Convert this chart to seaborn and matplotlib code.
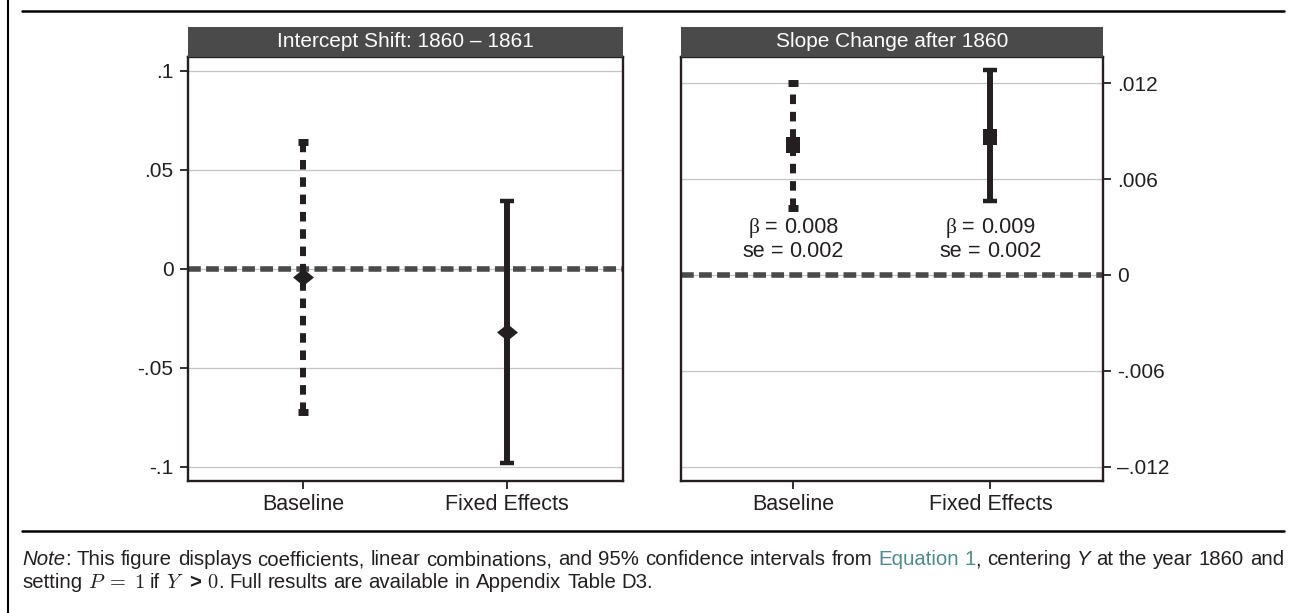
import numpy as np
import pandas as pd
import matplotlib
matplotlib.use("Agg")
import matplotlib.pyplot as plt
import seaborn as sns
from matplotlib.lines import Line2D
from matplotlib.patches import Rectangle

# ---------------- data ----------------
categories = ["Baseline", "Fixed Effects"]
intercept_coef = [-0.0040, -0.0319]
intercept_lo = [-0.0723, -0.0984]
intercept_hi = [0.0642, 0.0344]
slope_coef = [0.0081, 0.0086]
slope_lo = [0.0042, 0.0046]
slope_hi = [0.0120, 0.0128]
slope_beta = ["0.008", "0.009"]
slope_se = ["0.002", "0.002"]
panel_titles = ["Intercept Shift: 1860 \u2013 1861", "Slope Change after 1860"]
left_ticks = [-0.1, -0.05, 0, 0.05, 0.1]
left_ticklabels = ["-.1", "-.05", "0", ".05", ".1"]
right_ticks = [-0.012, -0.006, 0, 0.006, 0.012]
right_ticklabels = ["\u2013.012", "-.006", "0", ".006", ".012"]
line_styles = ["dashed", "solid"]

# ---------------- style ----------------
sns.set_theme(style="white")
plt.rcParams["font.family"] = ["Liberation Sans", "DejaVu Sans"]
plt.rcParams["mathtext.fontset"] = "cm"
INK = "#231f20"
HEADER = "#4a4a4a"
GRID = "#c4c4c4"

W, H = 1298, 613
fig = plt.figure(figsize=(W / 100, H / 100), dpi=100)
fig.patch.set_facecolor("white")


def px_rect(x0, y0, x1, y1):
    return [x0 / W, 1 - y1 / H, (x1 - x0) / W, (y1 - y0) / H]


axL = fig.add_axes(px_rect(187.5, 57, 622.7, 481))
axR = fig.add_axes(px_rect(681, 57, 1102.9, 481))


def draw_panel(ax, coef, lo, hi, marker, size, title, ticks, ticklabels, ylim, right=False):
    df = pd.DataFrame({"pos": np.arange(len(categories)), "model": categories,
                       "coef": coef, "lo": lo, "hi": hi})
    ax.set_facecolor("white")
    ax.axhline(0, color=HEADER, lw=4.0, ls=(0, (2.3, 0.95)), zorder=2)
    for i, row in df.iterrows():
        dashed = line_styles[i] == "dashed"
        eb = ax.errorbar([row["pos"]], [row["coef"]],
                         yerr=[[row["coef"] - row["lo"]], [row["hi"] - row["coef"]]],
                         fmt="none", ecolor=INK, elinewidth=4.3,
                         capsize=3.4 if dashed else 5.0,
                         capthick=5.0 if dashed else 3.2, zorder=3)
        if dashed:
            eb.lines[2][0].set_linestyle((0, (1.6, 1.3)))
    sns.scatterplot(data=df, x="pos", y="coef", marker=marker, s=size, color=INK,
                    edgecolor=INK, linewidth=0, zorder=4, ax=ax, legend=False)
    ax.set_xlim(-0.568, 1.57)
    ax.set_ylim(*ylim)
    ax.set_xticks(df["pos"], categories)
    ax.set_yticks(ticks, ticklabels)
    ax.set_xlabel("")
    ax.set_ylabel("")
    ax.yaxis.grid(True, color=GRID, lw=0.9)
    ax.xaxis.grid(False)
    ax.set_axisbelow(True)
    for sp in ax.spines.values():
        sp.set_visible(True)
        sp.set_color(INK)
        sp.set_linewidth(1.7)
    ax.tick_params(axis="both", which="both", length=6, width=1.3, color=INK,
                   labelcolor=INK, labelsize=15, pad=4)
    ax.tick_params(axis="x", bottom=True, top=False, labelsize=15.5, pad=3)
    if right:
        ax.yaxis.tick_right()
        ax.tick_params(axis="y", right=True, left=False)
    else:
        ax.tick_params(axis="y", left=True, right=False)
    hh = 30 / 424
    ax.add_patch(Rectangle((0, 1), 1, hh, transform=ax.transAxes, clip_on=False,
                           facecolor=HEADER, edgecolor="none", zorder=5))
    ax.text(0.5, 1 + hh / 2, title, transform=ax.transAxes, ha="center", va="center",
            color="white", fontsize=15, zorder=6)


diamond = [(-1, 0), (0, 0.81), (1, 0), (0, -0.81), (-1, 0)]
rect = [(-0.44, -0.5), (0.44, -0.5), (0.44, 0.5), (-0.44, 0.5), (-0.44, -0.5)]

draw_panel(axL, intercept_coef, intercept_lo, intercept_hi, diamond, 228,
           panel_titles[0], left_ticks, left_ticklabels, (-0.1073, 0.1069))
draw_panel(axR, slope_coef, slope_lo, slope_hi, rect, 149,
           panel_titles[1], right_ticks, right_ticklabels, (-0.01288, 0.01363), right=True)

# ---------------- text helpers ----------------
fig.canvas.draw()
renderer = fig.canvas.get_renderer()


def measure(txt, props):
    t = fig.text(0, 0, txt, **props)
    w = t.get_window_extent(renderer).width
    t.remove()
    return w


def space_width(props):
    return measure("x x", props) - measure("xx", props)


def to_words(segs):
    words, cur = [], []
    for txt, props in segs:
        parts = txt.split(" ")
        for k, p in enumerate(parts):
            if k > 0 and cur:
                words.append(cur)
                cur = []
            if p:
                cur.append((p, props))
    if cur:
        words.append(cur)
    return words


def draw_words(words, x0, y, gap=None, x1=None, ha="left", zorder=6):
    widths = [sum(measure(t, p) for t, p in w) for w in words]
    if gap is None and x1 is not None:
        gap = (x1 - x0 - sum(widths)) / max(len(words) - 1, 1)
    total = sum(widths) + gap * (len(words) - 1)
    x = x0 - total / 2 if ha == "center" else x0
    for w in words:
        for t, p in w:
            fig.text(x / W, 1 - y / H, t, ha="left", va="baseline", zorder=zorder, **p)
            x += measure(t, p)
        x += gap


# ---------------- beta / se labels ----------------
sans = dict(fontsize=15.5, color=INK)
serif = dict(fontsize=15.5, color=INK, family=["Liberation Serif", "DejaVu Serif"])
for i, (b, s) in enumerate(zip(slope_beta, slope_se)):
    xp, yp1 = axR.transData.transform((i, 0.00263))
    _, yp2 = axR.transData.transform((i, 0.00113))
    draw_words([[("\u03b2", serif)], [("=", sans)], [(b, sans)]], xp, H - yp1,
               gap=space_width(sans), ha="center")
    draw_words([[("se", sans)], [("=", sans)], [(s, sans)]], xp, H - yp2,
               gap=space_width(sans), ha="center")

# ---------------- frame rules ----------------
fig.add_artist(Line2D([22 / W, 1284 / W], [1 - 11 / H, 1 - 11 / H], color="black", lw=1.8))
fig.add_artist(Line2D([22 / W, 1284 / W], [1 - 531 / H, 1 - 531 / H], color="black", lw=1.8))
fig.add_artist(Line2D([7.5 / W, 7.5 / W], [0, 1], color="black", lw=1.5))

# ---------------- note ----------------
FS = 14.7
n = dict(fontsize=FS, color=INK)
it = dict(fontsize=FS, color=INK, style="italic")
link = dict(fontsize=FS, color="#4b8b8b")
bold = dict(fontsize=FS, color=INK, weight="bold")

line1 = [("Note", it),
         (": This figure displays coefficients, linear combinations, and 95% confidence intervals from ", n),
         ("Equation 1", link), (", centering ", n), ("Y", it), (" at the year 1860 and", n)]
line2 = [("setting ", n), (r"$P\;=\;1$", n), (" if ", n), ("$Y$", n), (" ", n), (">", bold),
         (" ", n), ("$0$", n), (". Full results are available in Appendix Table D3.", n)]

draw_words(to_words(line1), 22, 565, x1=1284)
draw_words(to_words(line2), 22, 588, gap=space_width(n))

fig.savefig("out.png", dpi=100, facecolor="white")
